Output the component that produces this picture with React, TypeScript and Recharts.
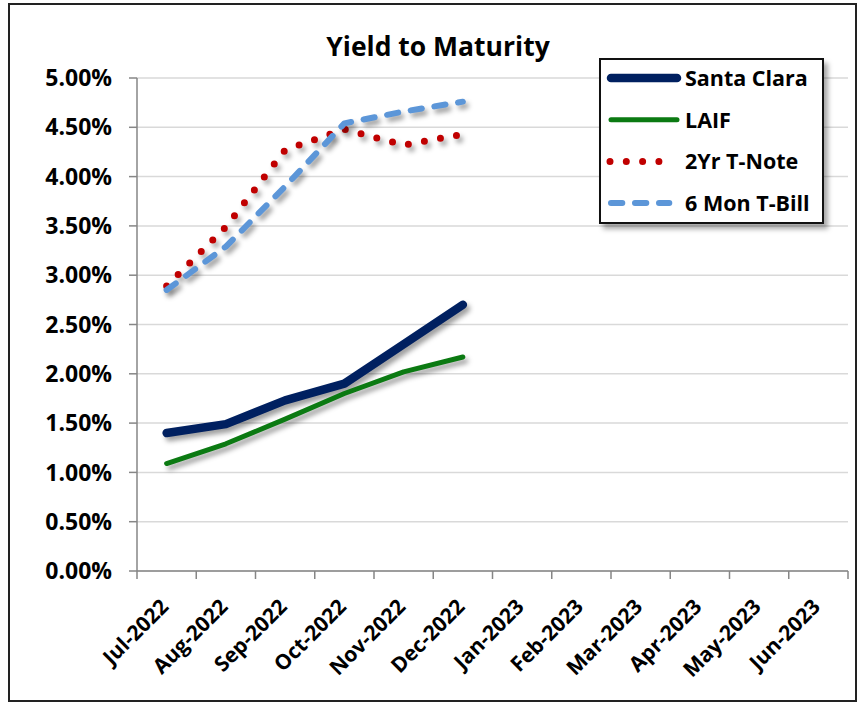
import React from 'react'
import { LineChart, Line, XAxis, YAxis, CartesianGrid, Legend } from 'recharts'

// yields in percent, one value per month that has data
const months = [
  'Jul-2022', 'Aug-2022', 'Sep-2022', 'Oct-2022', 'Nov-2022', 'Dec-2022',
  'Jan-2023', 'Feb-2023', 'Mar-2023', 'Apr-2023', 'May-2023', 'Jun-2023'
]
const santaClara = [1.40, 1.49, 1.73, 1.90, 2.30, 2.70]
const laif = [1.09, 1.29, 1.54, 1.80, 2.02, 2.17]
const twoYrTNote = [2.89, 3.49, 4.27, 4.48, 4.32, 4.43]
const sixMonTBill = [2.85, 3.29, 3.90, 4.54, 4.66, 4.76]
const yTicks = [0, 0.5, 1, 1.5, 2, 2.5, 3, 3.5, 4, 4.5, 5]

const FONT = '"Open Sans", sans-serif'
const PLOT_LEFT = 137
const PLOT_RIGHT = 848
const BAND = (PLOT_RIGHT - PLOT_LEFT) / months.length

const series = [
  { key: 'santaClara', name: 'Santa Clara', color: '#002060', width: 8.5, dash: undefined },
  { key: 'laif', name: 'LAIF', color: '#0b7a12', width: 5, dash: undefined },
  { key: 'twoYr', name: '2Yr T-Note', color: '#c00000', width: 7, dash: '0 16.3' },
  { key: 'sixMon', name: '6 Mon T-Bill', color: '#5c96d8', width: 6, dash: '11.3 12.7' }
]

const data = months.map((month, i) => ({
  month,
  santaClara: santaClara[i] ?? null,
  laif: laif[i] ?? null,
  twoYr: twoYrTNote[i] ?? null,
  sixMon: sixMonTBill[i] ?? null
}))

function MonthTick(props: any) {
  const { x, y, payload, index } = props
  const left = x - BAND / 2
  const ly = y + 37
  return (
    <g>
      <line x1={left} y1={y} x2={left} y2={y + 8} stroke="#868686" strokeWidth={1.5} />
      {index === months.length - 1 && (
        <line x1={left + BAND} y1={y} x2={left + BAND} y2={y + 8} stroke="#868686" strokeWidth={1.5} />
      )}
      <text
        x={x + 3}
        y={ly}
        textAnchor="end"
        transform={`rotate(-45 ${x + 3} ${ly})`}
        fontFamily={FONT}
        fontWeight="bold"
        fontSize={21}
        fill="#000"
      >
        {payload.value}
      </text>
    </g>
  )
}

function LegendBox() {
  return (
    <div style={{
      width: 225, height: 166, boxSizing: 'border-box', border: '2px solid #111',
      background: '#fff', boxShadow: '4px 5px 5px rgba(0,0,0,0.35)'
    }}>
      <svg width={221} height={162}>
        {series.map((s, i) => {
          const cy = 18 + i * 41.7
          const x1 = s.dash === '0 16.3' ? 9 : 10
          const x2 = s.dash === '0 16.3' ? 74.2 : s.dash ? 68.3 : 76
          return (
            <g key={s.key}>
              <line
                x1={x1} y1={cy} x2={x2} y2={cy}
                stroke={s.color} strokeWidth={s.width}
                strokeDasharray={s.dash} strokeLinecap="round"
              />
              <text x={84} y={cy + 8} fontFamily={FONT} fontWeight="bold" fontSize={21.5} fill="#000">
                {s.name}
              </text>
            </g>
          )
        })}
      </svg>
    </div>
  )
}

export default function App() {
  return (
    <div style={{ position: 'fixed', left: 0, top: 0, width: 857, height: 702, background: '#fff' }}>
      <style>{`.shadow-line path { filter: drop-shadow(3px 4px 2.5px rgba(0,0,0,0.38)); }`}</style>
      <div style={{
        position: 'absolute', left: 8, top: 3, width: 849, height: 699,
        boxSizing: 'border-box', border: '2px solid #222'
      }} />
      <div style={{
        position: 'absolute', left: 238, top: 33, width: 400, textAlign: 'center',
        fontFamily: FONT, fontWeight: 'bold', fontSize: 26.5, lineHeight: '27px', color: '#000'
      }}>
        Yield to Maturity
      </div>
      <div style={{ position: 'absolute', left: 0, top: 0 }}>
        <LineChart
          width={857}
          height={702}
          data={data}
          margin={{ top: 78, right: 857 - PLOT_RIGHT, bottom: 31, left: PLOT_LEFT - 100 }}
        >
          <CartesianGrid vertical={false} stroke="#d9d9d9" strokeWidth={1.5} />
          <XAxis
            dataKey="month"
            interval={0}
            height={100}
            padding={{ left: BAND / 2, right: BAND / 2 }}
            tickLine={false}
            tickSize={0}
            tickMargin={0}
            axisLine={{ stroke: '#868686', strokeWidth: 1.5 }}
            tick={(p: any) => <MonthTick {...p} />}
          />
          <YAxis
            width={100}
            domain={[0, 5]}
            ticks={yTicks}
            interval={0}
            tickSize={8}
            tickMargin={17}
            tickFormatter={(v: number) => `${v.toFixed(2)}%`}
            axisLine={{ stroke: '#868686', strokeWidth: 1.5 }}
            tickLine={{ stroke: '#868686', strokeWidth: 1.5 }}
            tick={{ fill: '#000', fontFamily: FONT, fontWeight: 'bold', fontSize: 23 }}
          />
          <Legend
            layout="vertical"
            align="center"
            verticalAlign="middle"
            content={() => <LegendBox />}
            wrapperStyle={{ position: 'absolute', left: 599, top: 58, width: 225, height: 166 }}
          />
          {series.map(s => (
            <Line
              key={s.key}
              className="shadow-line"
              type="linear"
              dataKey={s.key}
              name={s.name}
              stroke={s.color}
              strokeWidth={s.width}
              strokeDasharray={s.dash}
              strokeLinecap="round"
              strokeLinejoin="round"
              dot={false}
              activeDot={false}
              isAnimationActive={false}
            />
          ))}
        </LineChart>
      </div>
    </div>
  )
}
